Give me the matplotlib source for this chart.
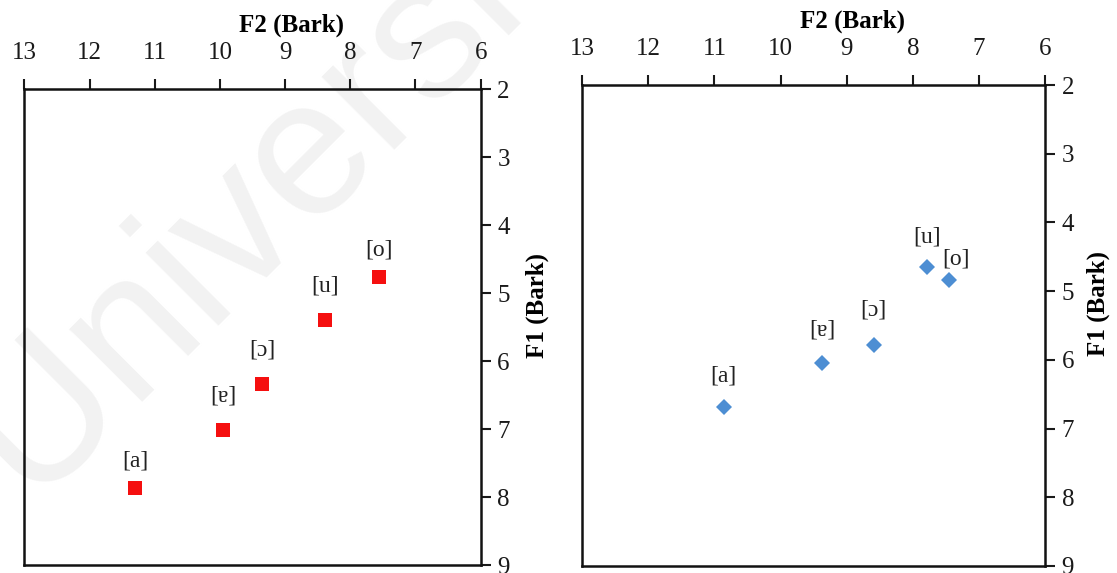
import matplotlib
matplotlib.use("Agg")
from matplotlib import pyplot

# vowel formants (Bark)
vowels = ["[a]", "[ɐ]", "[ɔ]", "[u]", "[o]"]
left_f2 = [11.30, 9.95, 9.35, 8.39, 7.56]
left_f1 = [7.87, 7.01, 6.34, 5.39, 4.76]
right_f2 = [10.86, 9.37, 8.59, 7.79, 7.45]
right_f1 = [6.68, 6.05, 5.78, 4.65, 4.84]

x_ticks = [13, 12, 11, 10, 9, 8, 7, 6]
y_ticks = [2, 3, 4, 5, 6, 7, 8, 9]

# label offsets (pixels) above each marker
left_offsets = [(0, 27), (0, 34), (0, 34), (0, 34), (0, 27)]
right_offsets = [(0, 31), (0, 33), (0, 35), (0, 30), (7, 21)]

serif = ["Liberation Serif", "DejaVu Serif"]
pyplot.rcParams["font.family"] = serif


def _style_axes(ax, ylabel_x):
    ax.set_facecolor("none")
    ax.set_xlim(13, 6)
    ax.set_ylim(9, 2)
    ax.set_xticks(x_ticks)
    ax.set_yticks(y_ticks)
    ax.xaxis.tick_top()
    ax.yaxis.tick_right()
    ax.tick_params(axis="both", direction="out", length=7, width=1.5,
                   labelsize=18, colors="#1a1a1a")
    ax.tick_params(axis="x", pad=11)
    ax.tick_params(axis="y", pad=5)
    for spine in ax.spines.values():
        spine.set_linewidth(1.8)
        spine.set_color("#111111")
    ax.set_xlabel("F2 (Bark)", fontsize=18, fontweight="bold")
    ax.xaxis.set_label_position("top")
    ax.xaxis.set_label_coords(0.585, 1.12)
    ax.set_ylabel("F1 (Bark)", fontsize=18, fontweight="bold")
    ax.yaxis.set_label_position("right")
    ax.yaxis.set_label_coords(ylabel_x, 0.545)


def _plot_panel(ax, f2, f1, offsets, marker, color, size, ylabel_x):
    ax.plot(f2, f1, linestyle="none", marker=marker, markersize=size,
            color=color, markeredgewidth=0, zorder=3)
    for name, x, y, off in zip(vowels, f2, f1, offsets):
        ax.annotate(name, (x, y), xytext=off, textcoords="offset pixels",
                    ha="center", va="center", fontsize=17, color="#222222")
    _style_axes(ax, ylabel_x)


fig = pyplot.figure(figsize=(11.17, 5.73), dpi=100)

# faint watermark behind the plots
fig.text(30 / 1117, 73 / 573, "University", fontsize=140, rotation=45,
         rotation_mode="anchor", ha="left", va="baseline",
         color="#f2f2f2", family=["Liberation Sans", "DejaVu Sans"], zorder=-5)

ax1 = fig.add_axes([24.3 / 1117, 1 - 565 / 573, 456.4 / 1117, 476 / 573])
ax2 = fig.add_axes([582.3 / 1117, 1 - 566 / 573, 462.7 / 1117, 481 / 573])

_plot_panel(ax1, left_f2, left_f1, left_offsets, "s", "#f50f0f", 10, 1.099)
_plot_panel(ax2, right_f2, right_f1, right_offsets, "D", "#4d8ed3", 8, 1.089)

fig.savefig("out.png", dpi=100)
pyplot.close(fig)
